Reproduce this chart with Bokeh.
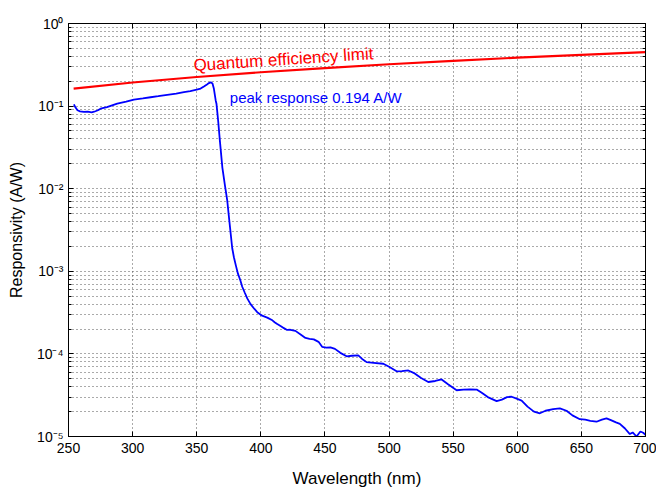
from bokeh.plotting import figure
from bokeh.models import FixedTicker, LinearAxis, LogAxis, Label, Range1d
from bokeh.embed import file_html
from bokeh.resources import INLINE

FONT = "Liberation Sans"

# ---- axis ticks ----
x_ticks = [250, 300, 350, 400, 450, 500, 550, 600, 650, 700]
y_ticks = [1e-5, 1e-4, 1e-3, 1e-2, 1e-1, 1e0]
y_tick_labels = ["10\u207b\u2075", "10\u207b\u2074", "10\u207b\u00b3", "10\u207b\u00b2", "10\u207b\u00b9", "10\u2070"]
y_minor = [m * d for d in [1e-5, 1e-4, 1e-3, 1e-2, 1e-1] for m in range(2, 10)]

# ---- quantum efficiency limit (red) ----
qe_wl = [254, 300, 350, 400, 450, 500, 550, 600, 650, 700]
qe_resp = [0.163, 0.193, 0.225, 0.257, 0.289, 0.321, 0.353, 0.386, 0.418, 0.450]

# ---- measured responsivity (blue) ----
blue_wl = [254.2, 255.5, 257, 259, 262, 265, 268, 270, 273, 275, 280, 288, 295, 301,
           308, 314, 320, 327, 334, 340, 345, 350, 353, 355.6, 358, 359.5, 361,
           362.3, 363.4, 364.8, 365.4, 366.7, 368, 370, 372, 373.8, 375.5, 377.7,
           379, 380.5, 382.2, 384, 385.5, 387.5, 389.4, 392, 395, 397.2, 401, 405,
           409, 411, 412.8, 416, 418, 420.5, 423, 427, 431, 434.8, 438, 441.3, 445,
           447.8, 451, 454.3, 457.8, 462, 466.9, 471, 476, 479, 482.5, 488, 495.5,
           500, 505.9, 510, 515, 520, 525, 530.6, 536, 541, 546, 552.7, 558, 563,
           568.3, 572, 577, 583.9, 588, 592, 595.6, 600, 603.4, 608, 613, 617.6,
           622, 628, 633.2, 638.4, 643, 648.8, 653, 657, 661.8, 666, 669.6, 673,
           677, 680, 684, 687.8, 690, 693, 696, 698.2, 700]
blue_resp = [0.105, 0.096, 0.089, 0.0865, 0.085, 0.0855, 0.084, 0.0855, 0.089, 0.093,
             0.097, 0.107, 0.113, 0.120, 0.124, 0.128, 0.132, 0.137, 0.142, 0.148,
             0.152, 0.158, 0.163, 0.173, 0.183, 0.190, 0.194, 0.188, 0.162, 0.117,
             0.107, 0.067, 0.039, 0.018, 0.011, 0.0072, 0.0040, 0.0019, 0.00148,
             0.00118, 0.00093, 0.00078, 0.00065, 0.00055, 0.00047, 0.00040, 0.00035,
             0.00032, 0.00029, 0.000275, 0.000255, 0.000240, 0.000230, 0.000215,
             0.000205, 0.000195, 0.000196, 0.000190, 0.000172, 0.000156, 0.000152,
             0.000150, 0.000140, 0.000122, 0.000119, 0.000120, 0.000115, 0.000103,
             0.0000935, 0.0000950, 0.0000960, 0.0000870, 0.0000795, 0.0000780,
             0.0000760, 0.0000700, 0.0000616, 0.0000620, 0.0000630, 0.0000580,
             0.0000510, 0.0000457, 0.0000470, 0.0000490, 0.0000430, 0.0000363,
             0.0000370, 0.0000372, 0.0000370, 0.0000340, 0.0000300, 0.0000268,
             0.0000280, 0.0000300, 0.0000303, 0.0000285, 0.0000272, 0.0000230,
             0.0000200, 0.0000191, 0.0000205, 0.0000215, 0.0000219, 0.0000205,
             0.0000180, 0.0000162, 0.0000160, 0.0000155, 0.0000151, 0.0000160,
             0.0000166, 0.0000158, 0.0000148, 0.0000142, 0.0000125, 0.0000107,
             0.0000112, 0.0000100, 0.0000115, 0.0000111, 0.0000105]

p = figure(width=656, height=491, x_range=Range1d(250, 700), y_range=Range1d(1e-5, 1),
           y_axis_type="log", output_backend="svg", toolbar_location=None,
           min_border_left=68, min_border_right=11, min_border_top=23, min_border_bottom=55,
           background_fill_color="white", border_fill_color="white")

p.outline_line_color = "black"
p.outline_line_width = 1

# axes
xt = FixedTicker(ticks=x_ticks)
yt = FixedTicker(ticks=y_ticks, minor_ticks=y_minor)

xa = p.xaxis[0]
xa.ticker = xt
xa.axis_label = "Wavelength (nm)"
ya = p.yaxis[0]
ya.ticker = yt
ya.major_label_overrides = {v: s for v, s in zip(y_ticks, y_tick_labels)}
ya.axis_label = "Responsivity (A/W)"

for ax in (xa, ya):
    ax.major_tick_in = 5
    ax.major_tick_out = 0
    ax.minor_tick_in = 3
    ax.minor_tick_out = 0
    ax.axis_line_color = "black"
    ax.major_tick_line_color = "black"
    ax.minor_tick_line_color = "black"
    ax.major_label_text_font = FONT
    ax.major_label_text_font_size = "14px"
    ax.major_label_text_color = "black"
    ax.axis_label_text_font = FONT
    ax.axis_label_text_font_style = "normal"
    ax.axis_label_text_color = "black"
xa.axis_label_text_font_size = "17px"
ya.axis_label_text_font_size = "16px"
xa.minor_tick_line_color = None
xa.major_label_standoff = 6
xa.axis_label_standoff = 13
ya.major_label_standoff = 5
ya.axis_label_standoff = 9

top = LinearAxis(ticker=xt, major_label_overrides={v: "" for v in x_ticks},
                 major_tick_in=5, major_tick_out=0, minor_tick_line_color=None,
                 major_label_standoff=0, major_label_text_font_size="0px")
right = LogAxis(ticker=yt, major_label_overrides={v: "" for v in y_ticks},
                major_tick_in=5, major_tick_out=0, minor_tick_in=3, minor_tick_out=0,
                major_label_standoff=0, major_label_text_font_size="0px")
p.add_layout(top, "above")
p.add_layout(right, "right")

# grids
p.xgrid.ticker = xt
p.ygrid.ticker = yt
for g in (p.xgrid, p.ygrid):
    g.grid_line_color = "#555555"
    g.grid_line_dash = "1 3"
    g.grid_line_width = 1
p.ygrid.minor_grid_line_color = "#555555"
p.ygrid.minor_grid_line_dash = "1 3"
p.ygrid.minor_grid_line_width = 1

# data
p.line(qe_wl, qe_resp, line_color="#ff0000", line_width=2.2)
p.line(blue_wl, blue_resp, line_color="#0000ff", line_width=1.8)

p.add_layout(Label(x=347.5, y=0.31, text="Quantum efficiency limit", angle=3.8, angle_units="deg",
                   text_font=FONT, text_font_size="17px", text_color="#ff0000",
                   text_baseline="alphabetic"))
p.add_layout(Label(x=375.8, y=0.128, text="peak response 0.194 A/W",
                   text_font=FONT, text_font_size="15px", text_color="#0000ff",
                   text_baseline="alphabetic"))

open("out.html", "w").write(file_html(p, INLINE))
